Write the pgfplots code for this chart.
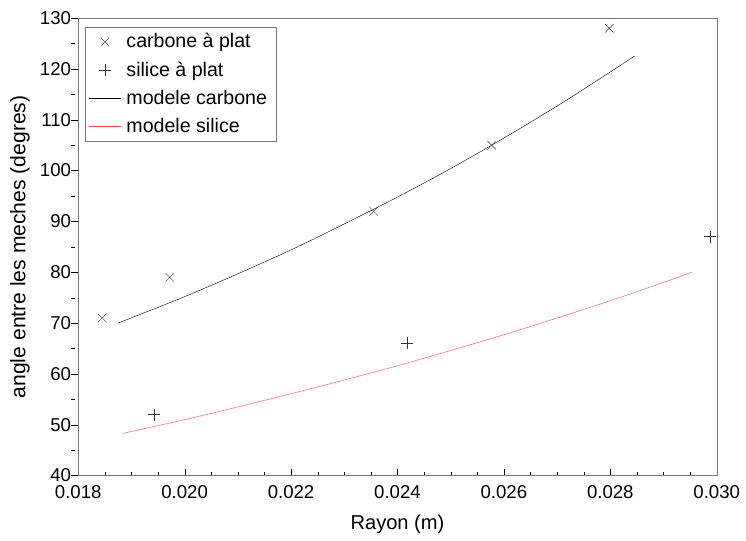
\documentclass[border=0pt]{standalone}
\usepackage{fontspec}
\setmainfont{Liberation Sans}
\usepackage{pgfplots}
\pgfplotsset{compat=1.18}
\definecolor{frame}{RGB}{120,120,120}
\definecolor{silred}{RGB}{255,70,70}
\pgfplotsset{
  longline/.style={legend image code/.code={\draw[##1] (0pt,0pt) -- (32pt,0pt);}},
  markleg/.style={legend image code/.code={\draw[##1,mark repeat=2,mark phase=2] plot coordinates {(0pt,0pt) (16pt,0pt) (32pt,0pt)};}},
}

\begin{document}
\fontsize{18}{21}\selectfont
\begin{tikzpicture}
\begin{axis}[
  scale only axis,
  width=635pt, height=455pt,
  xmin=0.018, xmax=0.030,
  ymin=40, ymax=130,
  scaled x ticks=false,
  xtick={0.018,0.020,...,0.0301},
  xticklabels={0.018,0.020,0.022,0.024,0.026,0.028,0.030},
  minor x tick num=3,
  ytick={40,50,...,130},
  minor y tick num=1,
  axis line style={frame},
  xtick pos=bottom, ytick pos=left,
  tick align=inside,
  x tick style={black},
  y tick style={black, xshift=-7pt},
  major tick length=7pt, minor tick length=4pt,
  /pgf/number format/assume math mode=true,
  ticklabel style={font=\fontsize{18.5}{21}\selectfont},
  yticklabel style={xshift=-1pt},
  xticklabel style={yshift=-4pt},
  xlabel={Rayon (m)},
  ylabel={angle entre les meches (degres)},
  xlabel style={font=\fontsize{20}{23}\selectfont, yshift=-4pt},
  ylabel style={font=\fontsize{21}{24}\selectfont, yshift=-2pt},
  legend style={at={(0.01,0.98)}, anchor=north west, draw=frame,
    font=\fontsize{19.5}{22}\selectfont, row sep=7pt, inner sep=4pt,
    nodes={inner xsep=5pt}},
  legend cell align=left,
]
\addplot[only marks, mark=x, mark size=6pt, black!80, thin, markleg] coordinates {
  (0.01845,71) (0.01972,79) (0.02355,92) (0.02577,105) (0.02798,128)
};
\addlegendentry{carbone à plat}
\addplot[only marks, mark=+, mark size=6pt, black!80, thin, markleg] coordinates {
  (0.01942,52) (0.02418,66) (0.02987,87)
};
\addlegendentry{silice à plat}
\addplot[black, thin, smooth, longline] coordinates {
  (0.01875,70.0) (0.0200,75.2) (0.0210,79.7) (0.0220,84.4) (0.0230,89.5)
  (0.0240,94.8) (0.0250,100.4) (0.0260,106.4) (0.0270,112.7) (0.0280,119.4)
  (0.02845,122.5)
};
\addlegendentry{modele carbone}
\addplot[silred, thin, smooth, longline] coordinates {
  (0.01884,48.3) (0.0200,51.0) (0.0210,53.5) (0.0220,56.1) (0.0230,58.8)
  (0.0240,61.6) (0.0250,64.6) (0.0260,67.7) (0.0270,71.0) (0.0280,74.4)
  (0.0290,78.0) (0.02953,80.0)
};
\addlegendentry{modele silice}
\end{axis}
\path (current axis.north) ++(0pt,18pt);
\path (current axis.outer west) ++(-4pt,0pt);
\end{tikzpicture}
\end{document}
